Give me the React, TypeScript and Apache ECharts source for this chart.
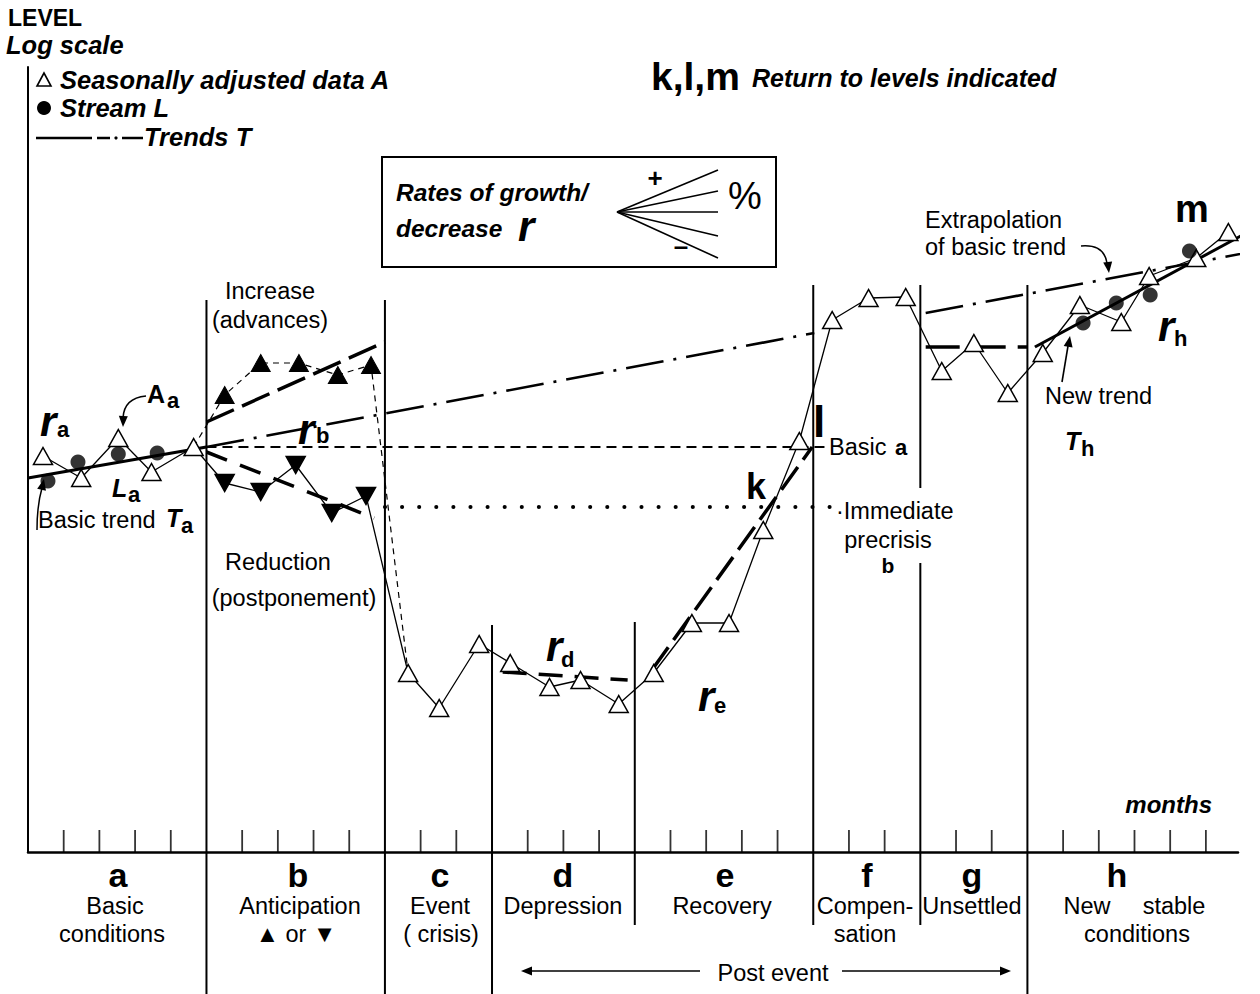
import React, { useEffect, useRef } from "react";
import * as echarts from "echarts";

// ---- data (x = months from start, y = level on the log scale, arbitrary units) ----
const basicMonths = [0.42, 1.49, 2.53, 3.46, 4.64];
const basicLevels = [39.6, 37.4, 41.4, 38.0, 40.5];
const reductionMonths = [5.51, 6.52, 7.5, 8.51, 9.47];
const reductionLevels = [36.9, 36.0, 38.7, 33.9, 35.6];
const advanceMonths = [5.51, 6.52, 7.59, 8.68, 9.61];
const advanceLevels = [45.7, 48.9, 48.9, 47.7, 48.7];
const postMonths = [10.65, 11.52, 12.64, 13.51, 14.61, 15.48, 16.55, 17.53, 18.6, 19.64, 20.6, 21.61, 22.53, 23.55, 24.59, 25.6, 26.5, 27.45, 28.43, 29.47, 30.63, 31.41, 32.73, 33.63];
const postLevels = [17.9, 14.4, 20.8, 18.9, 16.5, 17.2, 14.8, 17.9, 22.9, 22.9, 32.2, 41.1, 53.2, 55.4, 55.5, 48.1, 50.9, 45.9, 49.9, 54.7, 53.0, 57.6, 59.4, 62.0];
const streamMonths = [0.56, 1.4, 2.53, 3.62, 29.56, 30.49, 31.44, 32.54];
const streamLevels = [37.1, 39.0, 39.8, 39.9, 52.9, 54.9, 55.7, 60.1];

// trends: [month, level] start and end
const trendBasicA = [[0, 37.4], [5, 40.5]];
const trendIncreaseB = [[5, 43.0], [10, 51.0]];
const trendReductionB = [[5, 40.0], [9.7, 33.4]];
const extrapolationA1 = [[5, 40.5], [22.03, 51.9]];
const extrapolationA2 = [[25.15, 53.9], [34.56, 60.2]];
const levelBasicA = [[5, 40.5], [22.34, 40.5]];
const levelPrecrisisB = [[10, 34.5], [22.73, 34.5]];
const trendD = [[13.3, 18.0], [16.8, 17.2]];
const trendE = [[17.48, 18.2], [21.97, 40.5]];
const trendG = [[25.15, 50.5], [28.01, 50.5]];
const trendH = [[28.21, 50.5], [34.34, 62.3]];

const phaseBounds = [5, 10, 13, 17, 22, 25, 28];
const monthTicks = [1, 2, 3, 4, 6, 7, 8, 9, 11, 12, 14, 15, 16, 18, 19, 20, 21, 23, 24, 26, 27, 29, 30, 31, 32, 33];
const phaseLetters = ["a", "b", "c", "d", "e", "f", "g", "h"];
const phaseNames = [["Basic", "conditions"], ["Anticipation", "▲ or ▼"], ["Event", "( crisis)"], ["Depression"], ["Recovery"], ["Compen-", "sation"], ["Unsettled"], ["", "conditions"]];

// ---- layout ----
const boundarySegments = [
  [[55.2, -14.2]],
  [[55.2, -14.2]],
  [[22.7, -14.2]],
  [[23.0, -7.3]],
  [[56.7, -7.3]],
  [[56.7, 36.4], [28.9, -7.3]],
  [[56.7, -14.2]],
];
const letterX = [118, 298, 440, 563, 725, 867, 972, 1117];
const nameX = [[115, 112], [300, 296], [440, 441], [563], [722], [865, 865], [972], [1127, 1137]];

const FONT = '"Liberation Sans", Arial, Helvetica, sans-serif';
const REG = 23.5;
const BI = 25.5;
function txt(x: number, y: number, text: string, size: number, o: any = {}) {
  const font = `${o.italic ? "italic " : ""}${o.bold ? "bold " : ""}${size}px ${FONT}`;
  const align = o.align || "left";
  return {
    type: "text", x, y, z: 20, silent: true,
    style: { text, font, fill: "#000", align, verticalAlign: "middle", textAlign: align, textVerticalAlign: "middle" },
  };
}
function head(x: number, y: number, ang: number, len = 11, half = 4.5) {
  const c = Math.cos(ang), s = Math.sin(ang);
  const bx = x - c * len, by = y - s * len;
  return {
    type: "polygon", z: 20, silent: true,
    shape: { points: [[x, y], [bx - s * half, by + c * half], [bx + s * half, by - c * half]] },
    style: { fill: "#000" },
  };
}
function seg(x1: number, y1: number, x2: number, y2: number, w = 1.5, dash?: number[]) {
  return { type: "line", z: 20, silent: true, shape: { x1, y1, x2, y2 }, style: { stroke: "#000", lineWidth: w, lineDash: dash } };
}
function curve(x1: number, y1: number, cx: number, cy: number, x2: number, y2: number, w = 1.5) {
  return { type: "bezierCurve", z: 20, silent: true, shape: { x1, y1, cpx1: cx, cpy1: cy, x2, y2 }, style: { stroke: "#000", fill: null, lineWidth: w } };
}

function trendSeries(data: number[][], width: number, type: any, cap = "butt") {
  return {
    type: "line", data, symbol: "none", silent: true, clip: false, z: 3,
    lineStyle: { color: "#000", width, type, cap },
  };
}

export default function App() {
  const ref = useRef<HTMLDivElement>(null);
  useEffect(() => {
    if (!ref.current) return;
    const chart = echarts.init(ref.current, undefined, { renderer: "svg" });

    const openTri = { color: "#fff", borderColor: "#000", borderWidth: 1.5 };
    const mainChain = [
      ...basicMonths.map((m, i) => ({ value: [m, basicLevels[i]] })),
      ...reductionMonths.map((m, i) => ({ value: [m, reductionLevels[i]], symbolRotate: 180, itemStyle: { color: "#000", borderColor: "#000" } })),
      ...postMonths.map((m, i) => ({ value: [m, postLevels[i]] })),
    ];
    const lastBasic = basicMonths.length - 1;
    const advanceChain = [
      { value: [basicMonths[lastBasic], basicLevels[lastBasic]], symbol: "none" },
      ...advanceMonths.map((m, i) => ({ value: [m, advanceLevels[i]] })),
      { value: [postMonths[0], postLevels[0]], symbol: "none" },
    ];

    const boundarySeries: any[] = [];
    phaseBounds.forEach((m, i) => {
      boundarySegments[i].forEach(([top, bot]) => {
        boundarySeries.push({
          type: "line", data: [[m, top], [m, bot]], symbol: "none", silent: true, clip: false, z: 2,
          lineStyle: { color: "#000", width: 2 },
        });
      });
    });

    const graphics: any[] = [];
    // header & legend
    graphics.push(txt(8, 18, "LEVEL", 23, { bold: true }));
    graphics.push(txt(6, 45, "Log scale", 25.5, { bold: true, italic: true }));
    graphics.push({ type: "polygon", z: 20, silent: true, shape: { points: [[44, 73], [37, 86], [51, 86]] }, style: { fill: "#fff", stroke: "#000", lineWidth: 1.6 } });
    graphics.push(txt(60, 80, "Seasonally adjusted data A", BI, { bold: true, italic: true }));
    graphics.push({ type: "circle", z: 20, silent: true, shape: { cx: 44, cy: 108, r: 7 }, style: { fill: "#000" } });
    graphics.push(txt(60, 108, "Stream L", BI, { bold: true, italic: true }));
    graphics.push(seg(36, 138, 92, 138, 2.5));
    graphics.push(seg(97, 138, 110, 138, 2.5));
    graphics.push({ type: "circle", z: 20, silent: true, shape: { cx: 116, cy: 138, r: 1.6 }, style: { fill: "#000" } });
    graphics.push(seg(122, 138, 143, 138, 2.5));
    graphics.push(txt(144, 137, "Trends T", BI, { bold: true, italic: true }));
    graphics.push(txt(651, 76, "k,l,m", 39, { bold: true }));
    graphics.push(txt(752, 78, "Return to levels indicated", 25, { bold: true, italic: true }));
    // rates box
    graphics.push({ type: "rect", z: 20, silent: true, shape: { x: 382, y: 157, width: 394, height: 110 }, style: { fill: "none", stroke: "#000", lineWidth: 2 } });
    graphics.push(txt(396, 192, "Rates of growth/", 24.5, { bold: true, italic: true }));
    graphics.push(txt(396, 228, "decrease", 24.5, { bold: true, italic: true }));
    graphics.push(txt(518, 226, "r", 42, { bold: true, italic: true }));
    [170, 191, 212, 236, 258].forEach((y) => graphics.push(seg(617, 212, 718, y, 1.6)));
    graphics.push(txt(655, 178, "+", 26, { bold: true, align: "center" }));
    graphics.push(txt(681, 246, "–", 26, { bold: true, align: "center" }));
    graphics.push(txt(745, 196, "%", 38, { align: "center" }));

    // annotations in the plot
    graphics.push(txt(270, 291, "Increase", REG, { align: "center" }));
    graphics.push(txt(270, 320, "(advances)", REG, { align: "center" }));
    graphics.push(txt(278, 562, "Reduction", REG, { align: "center" }));
    graphics.push(txt(294, 598, "(postponement)", REG, { align: "center" }));
    graphics.push(txt(40, 421, "r", 42, { bold: true, italic: true }));
    graphics.push(txt(57, 429, "a", 22, { bold: true }));
    graphics.push(txt(147, 394, "A", 25, { bold: true }));
    graphics.push(txt(167, 400, "a", 22, { bold: true }));
    graphics.push(curve(146, 396, 124, 398, 123, 418));
    graphics.push(head(123, 427, 1.6));
    graphics.push(txt(112, 488, "L", 25, { bold: true, italic: true }));
    graphics.push(txt(128, 494, "a", 22, { bold: true }));
    graphics.push(txt(38, 520, "Basic trend", REG));
    graphics.push(txt(166, 518, "T", 25, { bold: true, italic: true }));
    graphics.push(txt(181, 525, "a", 22, { bold: true }));
    graphics.push(curve(37, 530, 37, 505, 42, 488));
    graphics.push(head(44, 479, -1.35));
    graphics.push(txt(298, 429, "r", 42, { bold: true, italic: true }));
    graphics.push(txt(316, 435, "b", 22, { bold: true }));
    graphics.push(txt(546, 646, "r", 42, { bold: true, italic: true }));
    graphics.push(txt(561, 659, "d", 22, { bold: true }));
    graphics.push(txt(698, 696, "r", 42, { bold: true, italic: true }));
    graphics.push(txt(714, 705, "e", 22, { bold: true }));
    graphics.push(txt(746, 486, "k", 36, { bold: true }));
    graphics.push(txt(813, 421, "l", 44, { bold: true }));
    graphics.push(txt(829, 447, "Basic", REG));
    graphics.push(txt(895, 447, "a", 22, { bold: true }));
    graphics.push(txt(836, 511, "·Immediate", REG));
    graphics.push(txt(888, 540, "precrisis", REG, { align: "center" }));
    graphics.push(txt(888, 565, "b", 21, { bold: true, align: "center" }));
    graphics.push(txt(925, 220, "Extrapolation", REG));
    graphics.push(txt(925, 247, "of basic trend", REG));
    graphics.push(curve(1081, 246, 1104, 244, 1107, 263));
    graphics.push(head(1109, 273, 1.45));
    graphics.push(txt(1175, 209, "m", 38, { bold: true }));
    graphics.push(txt(1158, 326, "r", 42, { bold: true, italic: true }));
    graphics.push(txt(1174, 338, "h", 22, { bold: true }));
    graphics.push(txt(1045, 396, "New trend", REG));
    graphics.push(seg(1062, 382, 1068, 346, 1.6));
    graphics.push(head(1070, 336, -1.4));
    graphics.push(txt(1065, 441, "T", 25, { bold: true, italic: true }));
    graphics.push(txt(1081, 448, "h", 22, { bold: true }));
    graphics.push(txt(1212, 804, "months", 24, { bold: true, italic: true, align: "right" }));

    // phase labels under axis
    phaseLetters.forEach((l, i) => graphics.push(txt(letterX[i], 875, l, 34, { bold: true, align: "center" })));
    phaseNames.forEach((lines, i) => {
      lines.forEach((t, j) => {
        if (t) graphics.push(txt(nameX[i][j], j === 0 ? 906 : 934, t, REG, { align: "center" }));
      });
    });
    graphics.push(txt(1087, 906, "New", REG, { align: "center" }));
    graphics.push(txt(1174, 906, "stable", REG, { align: "center" }));
    graphics.push(txt(773, 973, "Post event", REG, { align: "center" }));
    graphics.push(seg(526, 971, 700, 971, 1.4));
    graphics.push(head(521, 971, Math.PI));
    graphics.push(seg(842, 971, 1005, 971, 1.4));
    graphics.push(head(1011, 971, 0));

    const option: any = {
      animation: false,
      backgroundColor: "#fff",
      grid: { left: 28, right: 22, top: 67, bottom: 142 },
      xAxis: {
        type: "value", min: 0, max: 33.9,
        axisLine: { show: true, onZero: false, lineStyle: { color: "#000", width: 2.5 } },
        axisTick: { show: false }, axisLabel: { show: false }, splitLine: { show: false },
      },
      yAxis: {
        type: "value", min: 0, max: 78.5,
        axisLine: { show: true, onZero: false, lineStyle: { color: "#000", width: 2 } },
        axisTick: { show: false }, axisLabel: { show: false }, splitLine: { show: false },
      },
      series: [
        ...boundarySeries,
        {
          type: "scatter", data: monthTicks.map((m) => [m, 0]), symbol: "rect", symbolSize: [1.8, 22], symbolOffset: [0, -11],
          itemStyle: { color: "#000" }, silent: true, z: 2,
        },
        trendSeries(extrapolationA1, 2.6, [38, 10, 3, 10]),
        trendSeries(extrapolationA2, 2.6, [38, 10, 3, 10]),
        trendSeries(levelBasicA, 2.2, [10, 6]),
        trendSeries(levelPrecrisisB, 4, [0.1, 17], "round"),
        trendSeries(trendBasicA, 3.2, "solid"),
        trendSeries(trendIncreaseB, 3.5, [30, 9]),
        trendSeries(trendReductionB, 3.5, [22, 14]),
        trendSeries(trendD, 3.5, [24, 12]),
        trendSeries(trendE, 3.5, [28, 9]),
        trendSeries(trendG, 3.5, [34, 12]),
        trendSeries(trendH, 3, "solid"),
        {
          name: "Anticipated advances", type: "line", data: advanceChain, symbol: "triangle", symbolSize: [19, 17], showAllSymbol: true,
          itemStyle: { color: "#000", borderColor: "#000" }, lineStyle: { color: "#000", width: 1.2, type: [6, 5] },
          silent: true, z: 4, clip: false,
        },
        {
          name: "Seasonally adjusted data A", type: "line", data: mainChain, symbol: "triangle", symbolSize: [19, 17], showAllSymbol: true,
          itemStyle: openTri, lineStyle: { color: "#000", width: 1.3 }, silent: true, z: 5, clip: false,
        },
        {
          name: "Stream L", type: "scatter", data: streamMonths.map((m, i) => [m, streamLevels[i]]), symbol: "circle", symbolSize: 15,
          itemStyle: { color: "#000" }, silent: true, z: 6,
        },
      ],
      graphic: { elements: graphics },
    };
    chart.setOption(option);
    return () => chart.dispose();
  }, []);
  return <div ref={ref} style={{ position: "absolute", left: 0, top: 0, width: 1260, height: 994 }} />;
}
